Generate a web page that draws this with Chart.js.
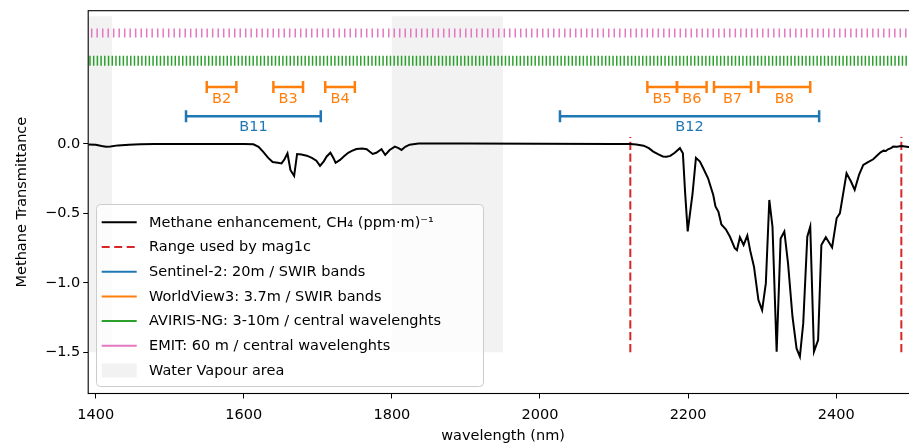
<!DOCTYPE html>
<html>
<head>
<meta charset="utf-8">
<script src="https://cdn.jsdelivr.net/npm/chart.js@4.4.1/dist/chart.umd.min.js"></script>
<style>
  html, body { margin: 0; padding: 0; overflow: hidden; background: #fff; width: 909px; height: 443px; }
  #wrap { position: absolute; left: 0; top: 0; width: 909px; height: 443px; overflow: hidden; }
  #chart { position: absolute; left: 0; top: 0; }
</style>
</head>
<body>
<div id="wrap"><canvas id="chart" width="920" height="443"></canvas></div>
<script>
// Methane transmittance curve
const wavelengths = [
  1390, 1400, 1408, 1414, 1420, 1430, 1445, 1460, 1480, 1500, 1550, 1600,
  1613, 1620, 1626, 1633, 1639, 1646, 1651, 1655, 1659, 1663, 1668, 1672,
  1678, 1685, 1692, 1698, 1703, 1708, 1712, 1717, 1721, 1724, 1730, 1735,
  1741, 1746, 1752, 1760, 1766, 1774, 1779, 1786, 1791, 1797, 1804, 1809,
  1813, 1818, 1824, 1836, 1900, 2000, 2100, 2122, 2130, 2140, 2147, 2153,
  2160, 2166, 2171, 2176, 2182, 2189, 2193, 2196, 2199.5, 2206, 2210.6, 2216,
  2220.5, 2227, 2234, 2237, 2241, 2245, 2251, 2256.6, 2263, 2266, 2270, 2275,
  2280, 2284, 2289, 2295, 2300, 2305, 2309.7, 2314, 2319.6, 2325, 2330, 2335,
  2341, 2346.5, 2351, 2355.5, 2361, 2365, 2370, 2375.6, 2380, 2386, 2394.5, 2400.6,
  2405, 2414, 2420, 2425, 2431, 2436.6, 2443, 2450, 2456, 2460, 2464, 2467,
  2470, 2474, 2477, 2482, 2488, 2493, 2500, 2510
];
const methaneTransmittance = [
  -0.003, -0.005, -0.015, -0.02, -0.018, -0.01, -0.005, -0.002, 0.0, 0.0, 0.0, 0.0,
  -0.002, -0.02, -0.055, -0.1, -0.13, -0.135, -0.14, -0.11, -0.067, -0.187, -0.23, -0.072,
  -0.075, -0.084, -0.1, -0.12, -0.158, -0.125, -0.09, -0.063, -0.1, -0.135, -0.115, -0.09,
  -0.063, -0.05, -0.036, -0.033, -0.038, -0.072, -0.063, -0.038, -0.079, -0.043, -0.019, -0.03,
  -0.043, -0.02, -0.005, 0.003, 0.003, 0.002, 0.0, 0.0, -0.004, -0.012, -0.03, -0.055,
  -0.075, -0.09, -0.092, -0.086, -0.063, -0.03, -0.067, -0.35, -0.63, -0.36, -0.1, -0.127,
  -0.175, -0.247, -0.367, -0.45, -0.488, -0.58, -0.615, -0.668, -0.75, -0.764, -0.672, -0.727,
  -0.66, -0.77, -0.884, -1.124, -1.196, -1.004, -0.403, -0.596, -1.496, -0.68, -0.63, -0.86,
  -1.244, -1.472, -1.532, -1.292, -0.668, -0.595, -1.496, -1.412, -0.728, -0.672, -0.745, -0.535,
  -0.5, -0.211, -0.27, -0.33, -0.22, -0.151, -0.13, -0.11, -0.08, -0.06, -0.048, -0.05,
  -0.038, -0.03, -0.019, -0.02, -0.014, -0.018, -0.024, -0.03
];

// Range used by mag1c (nm)
const mag1cRange = [2122, 2488];

// Water vapour areas (nm)
const waterVapourStart = [1340, 1800];
const waterVapourEnd = [1422, 1950];

// WorldView3 SWIR bands (nm)
const wv3Bands = ['B2', 'B3', 'B4', 'B5', 'B6', 'B7', 'B8'];
const wv3Start = [1550, 1640, 1710, 2145, 2185, 2235, 2295];
const wv3End = [1590, 1680, 1750, 2185, 2225, 2285, 2365];

// Sentinel-2 SWIR bands (nm)
const s2Bands = ['B11', 'B12'];
const s2Start = [1522, 2027];
const s2End = [1704, 2377];

// AVIRIS-NG central wavelengths (nm)
const avirisCentres = [
  1392.3, 1397.3, 1402.3, 1407.3, 1412.3, 1417.4, 1422.4, 1427.4, 1432.4, 1437.4,
  1442.4, 1447.4, 1452.4, 1457.4, 1462.4, 1467.5, 1472.5, 1477.5, 1482.5, 1487.5,
  1492.5, 1497.5, 1502.5, 1507.5, 1512.5, 1517.6, 1522.6, 1527.6, 1532.6, 1537.6,
  1542.6, 1547.6, 1552.6, 1557.6, 1562.6, 1567.7, 1572.7, 1577.7, 1582.7, 1587.7,
  1592.7, 1597.7, 1602.7, 1607.7, 1612.7, 1617.8, 1622.8, 1627.8, 1632.8, 1637.8,
  1642.8, 1647.8, 1652.8, 1657.8, 1662.8, 1667.9, 1672.9, 1677.9, 1682.9, 1687.9,
  1692.9, 1697.9, 1702.9, 1707.9, 1712.9, 1718.0, 1723.0, 1728.0, 1733.0, 1738.0,
  1743.0, 1748.0, 1753.0, 1758.0, 1763.0, 1768.1, 1773.1, 1778.1, 1783.1, 1788.1,
  1793.1, 1798.1, 1803.1, 1808.1, 1813.1, 1818.2, 1823.2, 1828.2, 1833.2, 1838.2,
  1843.2, 1848.2, 1853.2, 1858.2, 1863.2, 1868.3, 1873.3, 1878.3, 1883.3, 1888.3,
  1893.3, 1898.3, 1903.3, 1908.3, 1913.3, 1918.4, 1923.4, 1928.4, 1933.4, 1938.4,
  1943.4, 1948.4, 1953.4, 1958.4, 1963.4, 1968.5, 1973.5, 1978.5, 1983.5, 1988.5,
  1993.5, 1998.5, 2003.5, 2008.5, 2013.5, 2018.6, 2023.6, 2028.6, 2033.6, 2038.6,
  2043.6, 2048.6, 2053.6, 2058.6, 2063.6, 2068.7, 2073.7, 2078.7, 2083.7, 2088.7,
  2093.7, 2098.7, 2103.7, 2108.7, 2113.7, 2118.8, 2123.8, 2128.8, 2133.8, 2138.8,
  2143.8, 2148.8, 2153.8, 2158.8, 2163.8, 2168.9, 2173.9, 2178.9, 2183.9, 2188.9,
  2193.9, 2198.9, 2203.9, 2208.9, 2213.9, 2219.0, 2224.0, 2229.0, 2234.0, 2239.0,
  2244.0, 2249.0, 2254.0, 2259.0, 2264.0, 2269.1, 2274.1, 2279.1, 2284.1, 2289.1,
  2294.1, 2299.1, 2304.1, 2309.1, 2314.1, 2319.2, 2324.2, 2329.2, 2334.2, 2339.2,
  2344.2, 2349.2, 2354.2, 2359.2, 2364.2, 2369.3, 2374.3, 2379.3, 2384.3, 2389.3,
  2394.3, 2399.3, 2404.3, 2409.3, 2414.3, 2419.4, 2424.4, 2429.4, 2434.4, 2439.4,
  2444.4, 2449.4, 2454.4, 2459.4, 2464.4, 2469.5, 2474.5, 2479.5, 2484.5, 2489.5,
  2494.5, 2499.5, 2504.5, 2509.5
];

// EMIT central wavelengths (nm)
const emitCentres = [
  1394.6, 1402.0, 1409.5, 1416.9, 1424.3, 1431.8, 1439.2,
  1446.6, 1454.0, 1461.5, 1468.9, 1476.3, 1483.8, 1491.2,
  1498.6, 1506.0, 1513.5, 1520.9, 1528.3, 1535.8, 1543.2,
  1550.6, 1558.0, 1565.5, 1572.9, 1580.3, 1587.8, 1595.2,
  1602.6, 1610.0, 1617.5, 1624.9, 1632.3, 1639.8, 1647.2,
  1654.6, 1662.0, 1669.5, 1676.9, 1684.3, 1691.8, 1699.2,
  1706.6, 1714.0, 1721.5, 1728.9, 1736.3, 1743.8, 1751.2,
  1758.6, 1766.0, 1773.5, 1780.9, 1788.3, 1795.8, 1803.2,
  1810.6, 1818.0, 1825.5, 1832.9, 1840.3, 1847.8, 1855.2,
  1862.6, 1870.0, 1877.5, 1884.9, 1892.3, 1899.8, 1907.2,
  1914.6, 1922.0, 1929.5, 1936.9, 1944.3, 1951.8, 1959.2,
  1966.6, 1974.0, 1981.5, 1988.9, 1996.3, 2003.8, 2011.2,
  2018.6, 2026.0, 2033.5, 2040.9, 2048.3, 2055.8, 2063.2,
  2070.6, 2078.0, 2085.5, 2092.9, 2100.3, 2107.8, 2115.2,
  2122.6, 2130.0, 2137.5, 2144.9, 2152.3, 2159.8, 2167.2,
  2174.6, 2182.0, 2189.5, 2196.9, 2204.3, 2211.8, 2219.2,
  2226.6, 2234.0, 2241.5, 2248.9, 2256.3, 2263.8, 2271.2,
  2278.6, 2286.0, 2293.5, 2300.9, 2308.3, 2315.8, 2323.2,
  2330.6, 2338.0, 2345.5, 2352.9, 2360.3, 2367.8, 2375.2,
  2382.6, 2390.0, 2397.5, 2404.9, 2412.3, 2419.8, 2427.2,
  2434.6, 2442.0, 2449.5, 2456.9, 2464.3, 2471.8, 2479.2,
  2486.6, 2494.0
];

// Axis ticks
const xTicks = [1400, 1600, 1800, 2000, 2200, 2400];
const yTicks = [-1.5, -1.0, -0.5, 0.0];

// Heights (in transmittance units) where the sensor marks sit
const LEVEL = { emit: 0.8, aviris: 0.6, wv3: 0.41, s2: 0.2 };
const WV_TOP = 0.92, WV_BOTTOM = -1.5;
const MAG1C_TOP = 0.05, MAG1C_BOTTOM = -1.5;

// Where the plot frame sits on the page (the right spine falls just off screen)
const PLOT_BOX = { left: 88.2, top: 10.7, right: 918, bottom: 393.5 };

const COLORS = {
    methane: '#000000',
    mag1c: '#d62728',
    s2: '#1f77b4',
    wv3: '#ff7f0e',
    aviris: '#2ca02c',
    emit: '#e377c2',
    water: 'rgba(128,128,128,0.1)'
};
const FONT = 'DejaVu Sans';
const FONT_SIZE = 14.5;

// Build datasets
const datasets = [];

datasets.push({
    label: 'Methane enhancement',
    data: wavelengths.map((w, i) => ({ x: w, y: methaneTransmittance[i] })),
    showLine: true,
    borderColor: COLORS.methane,
    borderWidth: 2,
    pointRadius: 0
});

mag1cRange.forEach(w => {
    datasets.push({
        data: [{ x: w, y: MAG1C_BOTTOM }, { x: w, y: MAG1C_TOP }],
        showLine: true,
        borderColor: COLORS.mag1c,
        borderWidth: 2,
        borderDash: [8.3, 3.6],
        pointRadius: 0
    });
});

function bandDataset(start, end, level, color) {
    return {
        data: [{ x: start, y: level }, { x: end, y: level }],
        showLine: true,
        borderColor: color,
        borderWidth: 2.5,
        pointStyle: 'line',
        rotation: 90,
        pointRadius: 6,
        pointBorderColor: color,
        pointBorderWidth: 2.5
    };
}

s2Start.forEach((s, i) => datasets.push(bandDataset(s, s2End[i], LEVEL.s2, COLORS.s2)));
wv3Start.forEach((s, i) => datasets.push(bandDataset(s, wv3End[i], LEVEL.wv3, COLORS.wv3)));

datasets.push({
    data: avirisCentres.map(w => ({ x: w, y: LEVEL.aviris })),
    showLine: false,
    pointStyle: 'line',
    rotation: 90,
    pointRadius: 5,
    pointBorderColor: COLORS.aviris,
    pointBorderWidth: 1.5
});

datasets.push({
    data: emitCentres.map(w => ({ x: w, y: LEVEL.emit })),
    showLine: false,
    pointStyle: 'line',
    rotation: 90,
    pointRadius: 4.5,
    pointBorderColor: COLORS.emit,
    pointBorderWidth: 1.5
});

// Grey water vapour spans, drawn under everything
const waterVapourPlugin = {
    id: 'waterVapour',
    beforeDatasetsDraw(chart) {
        const { ctx, chartArea, scales: { x, y } } = chart;
        ctx.save();
        ctx.beginPath();
        ctx.rect(chartArea.left, chartArea.top, chartArea.right - chartArea.left, chartArea.bottom - chartArea.top);
        ctx.clip();
        ctx.fillStyle = COLORS.water;
        waterVapourStart.forEach((s, i) => {
            const x0 = x.getPixelForValue(s);
            const x1 = x.getPixelForValue(waterVapourEnd[i]);
            const y0 = y.getPixelForValue(WV_TOP);
            const y1 = y.getPixelForValue(WV_BOTTOM);
            ctx.fillRect(x0, y0, x1 - x0, y1 - y0);
        });
        ctx.restore();
    }
};

// Band names under the band bars
const bandLabelPlugin = {
    id: 'bandLabels',
    afterDatasetsDraw(chart) {
        const { ctx, scales: { x, y } } = chart;
        ctx.save();
        ctx.font = FONT_SIZE + 'px "' + FONT + '"';
        ctx.textAlign = 'center';
        ctx.textBaseline = 'middle';
        ctx.fillStyle = COLORS.wv3;
        wv3Bands.forEach((name, i) => {
            const cx = x.getPixelForValue((wv3Start[i] + wv3End[i]) / 2);
            ctx.fillText(name, cx, y.getPixelForValue(LEVEL.wv3) + 12.5);
        });
        ctx.fillStyle = COLORS.s2;
        s2Bands.forEach((name, i) => {
            const cx = x.getPixelForValue((s2Start[i] + s2End[i]) / 2);
            ctx.fillText(name, cx, y.getPixelForValue(LEVEL.s2) + 11.5);
        });
        ctx.restore();
    }
};

// Frame around the plot area (all four spines)
const framePlugin = {
    id: 'frame',
    afterDatasetsDraw(chart) {
        const { ctx, chartArea } = chart;
        ctx.save();
        ctx.strokeStyle = '#000';
        ctx.lineWidth = 1.1;
        ctx.strokeRect(chartArea.left, chartArea.top, chartArea.right - chartArea.left, chartArea.bottom - chartArea.top);
        ctx.restore();
    }
};

// Legend box in the lower left of the plot
const legendItems = [
    { label: 'Methane enhancement, CH\u2084 (ppm\u00b7m)\u207b\u00b9', color: COLORS.methane, dash: [] },
    { label: 'Range used by mag1c', color: COLORS.mag1c, dash: [8, 4.5] },
    { label: 'Sentinel-2: 20m / SWIR bands', color: COLORS.s2, dash: [] },
    { label: 'WorldView3: 3.7m / SWIR bands', color: COLORS.wv3, dash: [] },
    { label: 'AVIRIS-NG: 3-10m / central wavelenghts', color: COLORS.aviris, dash: [] },
    { label: 'EMIT: 60 m / central wavelenghts', color: COLORS.emit, dash: [] },
    { label: 'Water Vapour area', patch: true }
];

const legendPlugin = {
    id: 'boxLegend',
    afterDraw(chart) {
        const { ctx } = chart;
        const box = { x: 96.5, y: 204.5, w: 387, h: 182 };
        ctx.save();
        ctx.beginPath();
        ctx.roundRect(box.x, box.y, box.w, box.h, 4);
        ctx.fillStyle = 'rgba(255,255,255,0.8)';
        ctx.fill();
        ctx.strokeStyle = '#cccccc';
        ctx.lineWidth = 1;
        ctx.stroke();

        ctx.font = FONT_SIZE + 'px "' + FONT + '"';
        ctx.textBaseline = 'middle';
        ctx.textAlign = 'left';
        legendItems.forEach((item, i) => {
            const cy = box.y + 17.8 + i * 24.7;
            if (item.patch) {
                ctx.fillStyle = COLORS.water;
                ctx.fillRect(101.7, cy - 7, 35, 14);
            } else {
                ctx.beginPath();
                ctx.setLineDash(item.dash);
                ctx.strokeStyle = item.color;
                ctx.lineWidth = 2;
                ctx.moveTo(101.7, cy);
                ctx.lineTo(136.7, cy);
                ctx.stroke();
                ctx.setLineDash([]);
            }
            ctx.fillStyle = '#000';
            ctx.fillText(item.label, 149, cy + 0.5);
        });
        ctx.restore();
    }
};

const tickFont = { family: FONT, size: FONT_SIZE };

new Chart(document.getElementById('chart'), {
    type: 'scatter',
    data: { datasets: datasets },
    options: {
        responsive: false,
        animation: false,
        events: [],
        // no extra room for point overflow, the plot box is fixed
        layout: {
            autoPadding: false,
            padding: { top: PLOT_BOX.top, right: 920 - PLOT_BOX.right, left: 0, bottom: 0 }
        },
        plugins: {
            legend: { display: false },
            tooltip: { enabled: false }
        },
        scales: {
            x: {
                type: 'linear',
                min: 1389.9,
                max: 2510.5,
                afterBuildTicks: scale => { scale.ticks = xTicks.map(v => ({ value: v })); },
                afterFit: scale => {
                    scale.height = 443 - PLOT_BOX.bottom;
                    scale.paddingLeft = 0;
                    scale.paddingRight = 0;
                },
                ticks: {
                    color: '#000',
                    font: tickFont,
                    padding: 8,
                    maxRotation: 0,
                    callback: v => String(v)
                },
                grid: {
                    drawOnChartArea: false,
                    drawTicks: true,
                    tickLength: 5,
                    tickColor: '#000',
                    tickWidth: 1
                },
                border: { display: false },
                title: {
                    display: true,
                    text: 'wavelength (nm)',
                    color: '#000',
                    font: { family: FONT, size: FONT_SIZE, lineHeight: 1 },
                    padding: { top: 0, bottom: 0 }
                }
            },
            y: {
                type: 'linear',
                min: -1.797,
                max: 0.96,
                afterBuildTicks: scale => { scale.ticks = yTicks.map(v => ({ value: v })); },
                afterFit: scale => {
                    scale.width = PLOT_BOX.left;
                    scale.paddingTop = 0;
                    scale.paddingBottom = 0;
                },
                ticks: {
                    color: '#000',
                    font: tickFont,
                    padding: 3,
                    callback: v => (v < 0 ? '\u2212' : '') + Math.abs(v).toFixed(1)
                },
                grid: {
                    drawOnChartArea: false,
                    drawTicks: true,
                    tickLength: 5,
                    tickColor: '#000',
                    tickWidth: 1
                },
                border: { display: false },
                title: {
                    display: true,
                    text: 'Methane Transmittance',
                    color: '#000',
                    font: { family: FONT, size: FONT_SIZE, lineHeight: 1 },
                    padding: { top: 15, bottom: 0 }
                }
            }
        }
    },
    plugins: [waterVapourPlugin, bandLabelPlugin, framePlugin, legendPlugin]
});
</script>
</body>
</html>
